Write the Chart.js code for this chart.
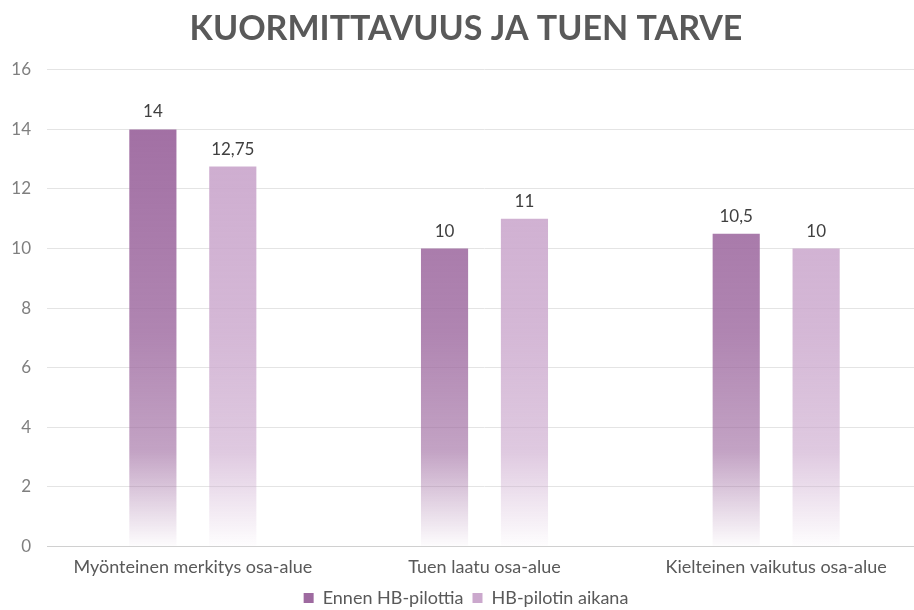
<!DOCTYPE html>
<html lang="fi">
<head>
  <meta charset="UTF-8">
  <title>Kuormittavuus ja tuen tarve</title>
  <script src="https://cdn.jsdelivr.net/npm/chart.js"></script>
  <style>
    body {
      margin: 0;
      overflow: hidden;
      background: #fff;
    }
    #wrap {
      width: 938px;
      height: 610px;
    }
  </style>
</head>
<body>
  <div id="wrap"><canvas id="chart"></canvas></div>

  <script>
    const categories = ['Myönteinen merkitys osa-alue', 'Tuen laatu osa-alue', 'Kielteinen vaikutus osa-alue'];
    const seriesNames = ['Ennen HB-pilottia', 'HB-pilotin aikana'];
    const beforeValues = [14, 10, 10.5];
    const duringValues = [12.75, 11, 10];

    const fontFamily = 'Lato, "Open Sans", sans-serif';

    // vertical fade toward the axis, like the original bars
    function fade(rgb) {
      return function (ctx) {
        const area = ctx.chart.chartArea;
        if (!area) return 'rgb(' + rgb + ')';
        const g = ctx.chart.ctx.createLinearGradient(0, area.top, 0, area.bottom);
        g.addColorStop(0, 'rgba(' + rgb + ',1)');
        g.addColorStop(0.55, 'rgba(' + rgb + ',0.82)');
        g.addColorStop(0.8, 'rgba(' + rgb + ',0.62)');
        g.addColorStop(1, 'rgba(' + rgb + ',0.02)');
        return g;
      };
    }

    // value labels above bars, Finnish decimal comma
    const valueLabels = {
      id: 'valueLabels',
      afterDatasetsDraw(chart) {
        const c = chart.ctx;
        c.save();
        c.font = '17px ' + fontFamily;
        c.fillStyle = '#404040';
        c.textAlign = 'center';
        c.textBaseline = 'bottom';
        chart.data.datasets.forEach((ds, i) => {
          chart.getDatasetMeta(i).data.forEach((bar, j) => {
            c.fillText(String(ds.data[j]).replace('.', ','), bar.x, bar.y - 9);
          });
        });
        c.restore();
      }
    };

    new Chart(document.getElementById('chart'), {
      type: 'bar',
      data: {
        labels: categories,
        datasets: [
          {
            label: seriesNames[0],
            data: beforeValues,
            backgroundColor: fade('158,106,160'),
            borderWidth: 0,
            barPercentage: 0.59,
            categoryPercentage: 0.548
          },
          {
            label: seriesNames[1],
            data: duringValues,
            backgroundColor: fade('203,168,205'),
            borderWidth: 0,
            barPercentage: 0.59,
            categoryPercentage: 0.548
          }
        ]
      },
      options: {
        responsive: true,
        maintainAspectRatio: false,
        animation: false,
        layout: { padding: { left: 10, right: 16, top: 8, bottom: -7 } },
        plugins: {
          title: {
            display: true,
            text: 'KUORMITTAVUUS JA TUEN TARVE',
            color: '#595959',
            font: { family: fontFamily, size: 34, weight: 'bold' },
            padding: { top: 1, bottom: 20 }
          },
          legend: {
            position: 'bottom',
            labels: {
              color: '#595959',
              font: { family: fontFamily, size: 18 },
              boxWidth: 10,
              boxHeight: 10,
              padding: 9,
              generateLabels(chart) {
                const cols = ['rgb(158,106,160)', 'rgb(203,168,205)'];
                return chart.data.datasets.map((ds, i) => ({
                  text: ds.label,
                  fillStyle: cols[i],
                  strokeStyle: cols[i],
                  lineWidth: 0,
                  fontColor: '#595959',
                  datasetIndex: i
                }));
              }
            }
          },
          tooltip: { enabled: false }
        },
        scales: {
          x: {
            grid: { display: false },
            border: { color: '#d0d0d0' },
            ticks: {
              color: '#595959',
              font: { family: fontFamily, size: 18 },
              padding: 2
            }
          },
          y: {
            min: 0,
            max: 16,
            afterFit(scale) { scale.width = 37; },
            ticks: {
              stepSize: 2,
              color: '#7f7f7f',
              font: { family: fontFamily, size: 17 },
              padding: 16
            },
            grid: { color: '#e4e4e4', drawTicks: false },
            border: { display: false }
          }
        }
      },
      plugins: [valueLabels]
    });
  </script>
</body>
</html>
